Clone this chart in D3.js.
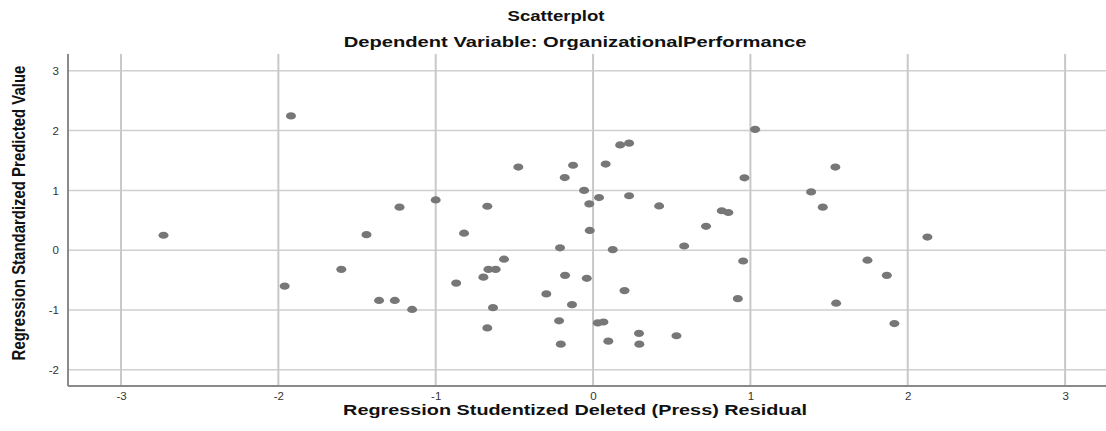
<!DOCTYPE html>
<html>
<head>
<meta charset="utf-8">
<script src="https://cdn.jsdelivr.net/npm/d3@7"></script>
<style>
  body { margin: 0; background: #fff; }
  svg { display: block; }
</style>
</head>
<body>
<div id="chart"></div>
<script>
// residuals (x) and predicted values (y)
const residual = [-2.73, -1.92, -1.96, -1.60, -1.44, -1.36, -1.26, -1.23, -1.15, -1.00,
  -0.82, -0.87, -0.475, -0.127, -0.18, 0.08, 0.172, 0.229, -0.057, 0.038,
  0.229, 1.03, 0.962, 1.54, 1.386, -0.672, -0.024, 0.42, 0.818, 0.86,
  1.46, -0.021, 0.718, -0.21, 0.125, 0.579, 0.954, -0.566, -0.665, -0.619,
  -0.697, -0.178, -0.04, 0.2, -0.297, 0.92, 1.545, -0.636, -0.134, -0.216,
  0.03, 0.066, -0.672, 0.292, 0.53, 0.097, -0.205, 0.294, 2.125, 1.744,
  1.867, 1.915];
const predicted = [0.25, 2.245, -0.60, -0.32, 0.26, -0.84, -0.84, 0.72, -0.99, 0.84,
  0.284, -0.55, 1.39, 1.42, 1.215, 1.44, 1.76, 1.79, 1.0, 0.88,
  0.91, 2.02, 1.21, 1.39, 0.975, 0.735, 0.775, 0.74, 0.66, 0.63,
  0.72, 0.33, 0.40, 0.04, 0.01, 0.07, -0.18, -0.15, -0.32, -0.32,
  -0.45, -0.42, -0.47, -0.675, -0.73, -0.81, -0.886, -0.96, -0.91, -1.18,
  -1.215, -1.2, -1.30, -1.39, -1.43, -1.52, -1.57, -1.57, 0.22, -0.167,
  -0.42, -1.226];
const xTicks = [-3, -2, -1, 0, 1, 2, 3];
const yTicks = [-2, -1, 0, 1, 2, 3];

const title = "Scatterplot";
const subtitle = "Dependent Variable: OrganizationalPerformance";
const xLabel = "Regression Studentized Deleted (Press) Residual";
const yLabel = "Regression Standardized Predicted Value";

const width = 1106, height = 431;
const plotLeft = 68, plotRight = 1106, plotTop = 54, plotBottom = 386;

const x = d3.scaleLinear().domain([-3.337, 3.26]).range([plotLeft, plotRight]);
const y = d3.scaleLinear().domain([-2.27, 3.28]).range([plotBottom, plotTop]);

const svg = d3.select("#chart").append("svg")
  .attr("width", width)
  .attr("height", height)
  .attr("font-family", "Liberation Sans, Arial, sans-serif");

// grid
svg.append("g")
  .selectAll("line")
  .data(yTicks)
  .join("line")
  .attr("x1", plotLeft).attr("x2", plotRight)
  .attr("y1", d => y(d)).attr("y2", d => y(d))
  .attr("stroke", "#cfcfcf")
  .attr("stroke-width", 1.5);

svg.append("g")
  .selectAll("line")
  .data(xTicks)
  .join("line")
  .attr("x1", d => x(d)).attr("x2", d => x(d))
  .attr("y1", plotTop).attr("y2", plotBottom)
  .attr("stroke", "#c8c8c8")
  .attr("stroke-width", 2);

// axes (plain hyphen for negatives, like the source)
const fmt = d => String(d);
const xAxis = svg.append("g")
  .attr("transform", `translate(0,${plotBottom})`)
  .call(d3.axisBottom(x).tickValues(xTicks).tickSize(0).tickPadding(6).tickFormat(fmt));
const yAxis = svg.append("g")
  .attr("transform", `translate(${plotLeft},0)`)
  .call(d3.axisLeft(y).tickValues(yTicks).tickSize(0).tickPadding(9).tickFormat(fmt));

[xAxis, yAxis].forEach(a => {
  a.select(".domain").attr("stroke", "#8a8a8a").attr("stroke-width", 2);
  a.selectAll("text")
    .attr("fill", "#333")
    .attr("font-size", 11.5)
    .attr("font-family", "Liberation Sans, Arial, sans-serif");
});
xAxis.select(".domain").attr("d", `M${plotLeft},0H${plotRight}`);
yAxis.select(".domain").attr("d", `M0,${plotTop}V${plotBottom}`);

// points
svg.append("g")
  .selectAll("ellipse")
  .data(d3.zip(residual, predicted))
  .join("ellipse")
  .attr("cx", d => x(d[0]))
  .attr("cy", d => y(d[1]))
  .attr("rx", 5)
  .attr("ry", 3.6)
  .attr("fill", "#777777");

// the source picture is stretched sideways, so widen text to the measured span
function stretched(txt, cx, cy, span, rot, family, size) {
  const g = svg.append("g");
  const t = g.append("text")
    .attr("text-anchor", "middle")
    .attr("font-family", family)
    .attr("font-weight", "bold")
    .attr("font-size", size)
    .attr("fill", "#111")
    .text(txt);
  const k = span / t.node().getComputedTextLength();
  g.attr("transform", `translate(${cx},${cy}) rotate(${rot}) scale(${k},1)`);
}

const sans = "Liberation Sans, Arial, sans-serif";
stretched(title, 556, 21, 97, 0, sans, 15);
stretched(subtitle, 575, 47, 463, 0, sans, 15);
stretched(xLabel, 575, 415, 464, 0, sans, 15);
stretched(yLabel, 25, 213, 295, -90, "Liberation Sans Narrow, Arial Narrow, sans-serif", 17.5);
</script>
</body>
</html>
